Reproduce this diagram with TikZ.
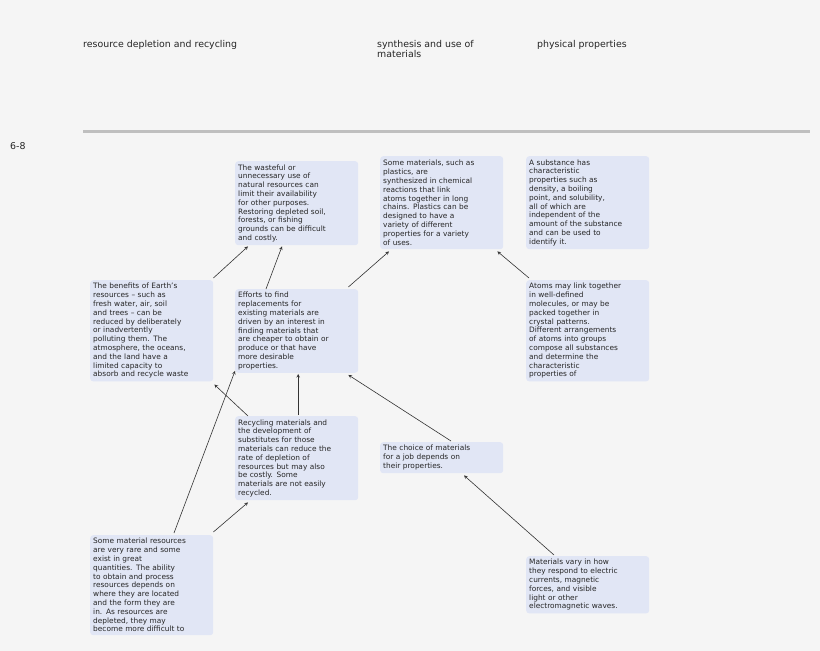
\documentclass[tikz,border=0pt]{standalone}
\usepackage{fontspec}
\setmainfont{DejaVu Sans}
\usetikzlibrary{calc,arrows}
\definecolor{boxfill}{HTML}{E1E6F5}
\definecolor{pagebg}{HTML}{F5F5F5}
\tikzset{
  % Box for one statement of the map
  box_idea/.style={
    rectangle,
    rounded corners=3pt,
    anchor=north west,
    align=left,
    fill=boxfill,
    inner sep=3pt,
    text width=117pt,
    font=\fontsize{7.4}{8.8}\selectfont,
    text=black!85
  },
  % Column headers
  head/.style={anchor=north west, align=left, inner sep=0pt,
    font=\fontsize{9.4}{10}\selectfont, text=black!85},
  %----------------%
  %     Arrows     %
  %----------------%
  arrow/.style={draw,black!80,semithick,-stealth},
}

\begin{document}
\begin{tikzpicture}[x=1pt, y=-1pt]
    % page
    \fill [pagebg] (0,0) rectangle (820,651);
    \useasboundingbox (0,0) rectangle (820,651);

    %-----------%
    %  Headers  %
    %-----------%
    \node (h1) [head] at (83,40) {resource depletion and recycling};
    \node (h2) [head] at (377,40) {synthesis and use of\\materials};
    \node (h3) [head] at (537,40) {physical properties};
    \draw [black!25, line width=3pt] (83,131) -- (810,131);
    \node (grade) [head] at (10,142) {6-8};

    %---------%
    %  Boxes  %
    %---------%
    % Wasteful use
    \node (waste) [box_idea, minimum height=84pt] at (235,161) {The wasteful or\\unnecessary use of\\natural resources can\\limit their availability\\for other purposes.\\Restoring depleted soil,\\forests, or fishing\\grounds can be difficult\\and costly.};
    % Plastics
    \node (plastics) [box_idea, minimum height=93pt] at (380,156) {Some materials, such as\\plastics, are\\synthesized in chemical\\reactions that link\\atoms together in long\\chains. Plastics can be\\designed to have a\\variety of different\\properties for a variety\\of uses.};
    % Substance
    \node (substance) [box_idea, minimum height=93pt] at (526,156) {A substance has\\characteristic\\properties such as\\density, a boiling\\point, and solubility,\\all of which are\\independent of the\\amount of the substance\\and can be used to\\identify it.};
    % Benefits
    \node (benefits) [box_idea, minimum height=101pt] at (90,280) {The benefits of Earth's\\resources -- such as\\fresh water, air, soil\\and trees -- can be\\reduced by deliberately\\or inadvertently\\polluting them. The\\atmosphere, the oceans,\\and the land have a\\limited capacity to\\absorb and recycle waste};
    % Efforts
    \node (efforts) [box_idea, minimum height=83pt] at (235,289) {Efforts to find\\replacements for\\existing materials are\\driven by an interest in\\finding materials that\\are cheaper to obtain or\\produce or that have\\more desirable\\properties.};
    % Atoms
    \node (atoms) [box_idea, minimum height=101pt] at (526,280) {Atoms may link together\\in well-defined\\molecules, or may be\\packed together in\\crystal patterns.\\Different arrangements\\of atoms into groups\\compose all substances\\and determine the\\characteristic\\properties of};
    % Recycling
    \node (recycling) [box_idea, minimum height=84pt] at (235,416) {Recycling materials and\\the development of\\substitutes for those\\materials can reduce the\\rate of depletion of\\resources but may also\\be costly. Some\\materials are not easily\\recycled.};
    % Choice
    \node (choice) [box_idea, minimum height=31pt] at (380,442) {The choice of materials\\for a job depends on\\their properties.};
    % Rare resources
    \node (rare) [box_idea, minimum height=100pt] at (90,535) {Some material resources\\are very rare and some\\exist in great\\quantities. The ability\\to obtain and process\\resources depends on\\where they are located\\and the form they are\\in. As resources are\\depleted, they may\\become more difficult to};
    % Vary
    \node (vary) [box_idea, minimum height=57pt] at (526,556) {Materials vary in how\\they respond to electric\\currents, magnetic\\forces, and visible\\light or other\\electromagnetic waves.};

    %----------%
    %  Arrows  %
    %----------%
    % Benefits --> Waste
    \draw [arrow] ($(benefits.north east)+(0,-2)$) -- ($(waste.south west)+(13,1)$);
    % Efforts --> Waste
    \draw [arrow] ($(efforts.north west)+(31,0)$) -- ($(waste.south west)+(47,1)$);
    % Efforts --> Plastics
    \draw [arrow] ($(efforts.north east)+(-10,-2)$) -- ($(plastics.south west)+(9,2)$);
    % Atoms --> Plastics
    \draw [arrow] ($(atoms.north west)+(3,-2)$) -- ($(plastics.south east)+(-6,2)$);
    % Recycling --> Benefits
    \draw [arrow] ($(recycling.north west)+(13,0)$) -- ($(benefits.south east)+(1,3)$);
    % Recycling --> Efforts
    \draw [arrow] ($(recycling.north)+(1.5,-1)$) -- ($(efforts.south)+(1.5,1)$);
    % Choice --> Efforts
    \draw [arrow] ($(choice.north west)+(71,-1)$) -- ($(efforts.south east)+(-10,2)$);
    % Rare --> Efforts
    \draw [arrow] ($(rare.north west)+(84,-2)$) -- ($(efforts.south west)+(0,-2)$);
    % Rare --> Recycling
    \draw [arrow] ($(rare.north east)+(0,-3)$) -- ($(recycling.south west)+(13,2)$);
    % Vary --> Choice
    \draw [arrow] ($(vary.north west)+(28,-1)$) -- ($(choice.south west)+(84,2)$);
\end{tikzpicture}
\end{document}
